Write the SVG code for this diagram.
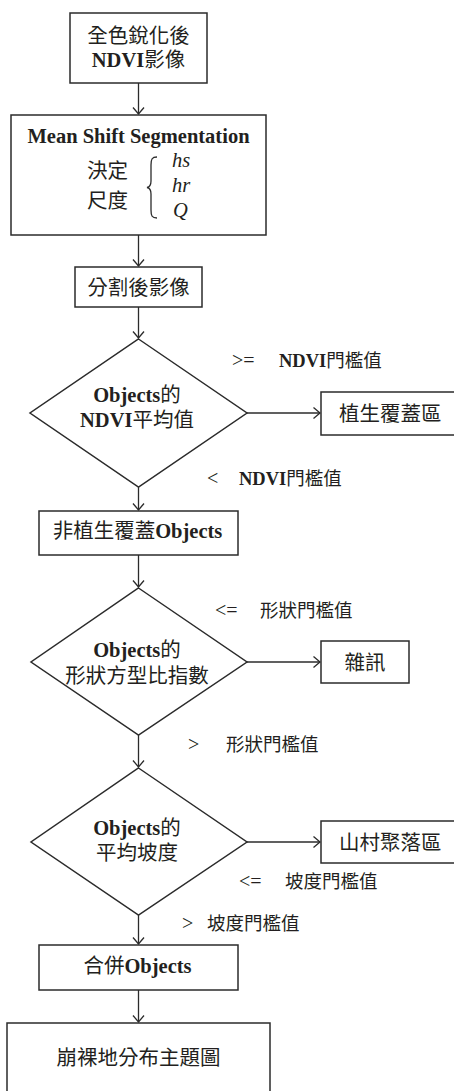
<svg xmlns="http://www.w3.org/2000/svg" width="454" height="1091" viewBox="0 0 454 1091">
  <style>
    .box { fill: #ffffff; stroke: #2b2b2b; stroke-width: 1.5; }
    .line { fill: none; stroke: #2b2b2b; stroke-width: 1.3; }
    .t { font-family: "Noto Sans CJK TC", "Noto Sans CJK SC", sans-serif; font-size: 20.5px; fill: #231f20; }
    .lbl { font-family: "Noto Sans CJK TC", "Noto Sans CJK SC", sans-serif; font-size: 18.5px; fill: #231f20; }
    .b { font-family: "Liberation Serif", "Times New Roman", serif; font-weight: bold; }
    .it { font-family: "Liberation Serif", "Times New Roman", serif; font-style: italic; font-size: 20.5px; fill: #231f20; }
    .op { font-family: "Liberation Serif", "Times New Roman", serif; font-size: 20px; fill: #231f20; }
  </style>
  <defs>
    <marker id="arrow" markerUnits="userSpaceOnUse" markerWidth="10" markerHeight="14" refX="8" refY="7" orient="auto">
      <path d="M1.5,1.5 L8,7 L1.5,12.5" fill="none" stroke="#2b2b2b" stroke-width="1.3"/>
    </marker>
  </defs>
  <rect width="454" height="1091" fill="#ffffff"/>

  <g id="connectors">
    <line class="line" x1="138.5" y1="83" x2="138.5" y2="114" marker-end="url(#arrow)"/>
    <line class="line" x1="138.5" y1="235" x2="138.5" y2="266" marker-end="url(#arrow)"/>
    <line class="line" x1="138.5" y1="307" x2="138.5" y2="338" marker-end="url(#arrow)"/>
    <line class="line" x1="138.5" y1="487" x2="138.5" y2="510" marker-end="url(#arrow)"/>
    <line class="line" x1="138.5" y1="555" x2="138.5" y2="587" stroke-width="2" marker-end="url(#arrow)"/>
    <line class="line" x1="138.5" y1="735" x2="138.5" y2="767" marker-end="url(#arrow)"/>
    <line class="line" x1="138.5" y1="915" x2="138.5" y2="944" marker-end="url(#arrow)"/>
    <line class="line" x1="138.5" y1="990" x2="138.5" y2="1022" marker-end="url(#arrow)"/>
    <line class="line" x1="247" y1="413" x2="320" y2="413" marker-end="url(#arrow)"/>
    <line class="line" x1="247" y1="662" x2="320" y2="662" marker-end="url(#arrow)"/>
    <line class="line" x1="247" y1="842" x2="320" y2="842" marker-end="url(#arrow)"/>
    <!-- branch labels -->
    <text class="op" x="232" y="367">&gt;=</text>
    <text class="lbl" x="279" y="367"><tspan class="b">NDVI</tspan>門檻值</text>
    <text class="op" x="207" y="485">&lt;</text>
    <text class="lbl" x="239" y="485"><tspan class="b">NDVI</tspan>門檻值</text>
    <text class="op" x="215" y="617">&lt;=</text>
    <text class="lbl" x="260" y="617">形狀門檻值</text>
    <text class="op" x="188" y="751">&gt;</text>
    <text class="lbl" x="226" y="751">形狀門檻值</text>
    <text class="op" x="239" y="888">&lt;=</text>
    <text class="lbl" x="285" y="888">坡度門檻值</text>
    <text class="op" x="182" y="930">&gt;</text>
    <text class="lbl" x="207" y="930">坡度門檻值</text>
  </g>

  <g id="ndvi-input">
    <rect class="box" x="70" y="13" width="137" height="70"/>
    <text class="t" x="138.5" y="43" text-anchor="middle">全色銳化後</text>
    <text class="t" x="138.5" y="67" text-anchor="middle"><tspan class="b">NDVI</tspan>影像</text>
  </g>

  <g id="mean-shift">
    <rect class="box" x="11" y="115" width="255" height="120"/>
    <text class="t b" x="138.5" y="143" text-anchor="middle">Mean Shift Segmentation</text>
    <text class="t" x="87" y="178">決定</text>
    <text class="t" x="87" y="208">尺度</text>
    <path class="line" d="M157,157 C152,157 151,159 151,165 L151,181 C151,185 150,187 147,187.5 C150,188 151,190 151,194 L151,210 C151,216 152,218 157,218"/>
    <text class="it" x="172" y="167">hs</text>
    <text class="it" x="172" y="192">hr</text>
    <text class="it" x="173" y="217">Q</text>
  </g>

  <g id="segmented">
    <rect class="box" x="75" y="267" width="127" height="40"/>
    <text class="t" x="138.5" y="295" text-anchor="middle">分割後影像</text>
  </g>

  <g id="ndvi-mean">
    <polygon class="box" points="138.5,339 247,413 138.5,487 30,413"/>
    <text class="t" x="137" y="402" text-anchor="middle"><tspan class="b">Objects</tspan>的</text>
    <text class="t" x="137" y="427" text-anchor="middle"><tspan class="b">NDVI</tspan>平均值</text>
  </g>

  <g id="vegetation">
    <rect class="box" x="321" y="392" width="140" height="43"/>
    <text class="t" x="339" y="421">植生覆蓋區</text>
  </g>

  <g id="non-vegetation">
    <rect class="box" x="39" y="511" width="199" height="44"/>
    <text class="t" x="137.5" y="538" text-anchor="middle">非植生覆蓋<tspan class="b">Objects</tspan></text>
  </g>

  <g id="shape-index">
    <polygon class="box" points="138.5,588 247,662 138.5,735 31,662"/>
    <text class="t" x="137" y="657" text-anchor="middle"><tspan class="b">Objects</tspan>的</text>
    <text class="t" x="137" y="683" text-anchor="middle">形狀方型比指數</text>
  </g>

  <g id="noise">
    <rect class="box" x="321" y="641" width="88" height="42"/>
    <text class="t" x="365" y="670" text-anchor="middle">雜訊</text>
  </g>

  <g id="mean-slope">
    <polygon class="box" points="138.5,768 247,842 138.5,915 31,842"/>
    <text class="t" x="137" y="835" text-anchor="middle"><tspan class="b">Objects</tspan>的</text>
    <text class="t" x="137" y="860" text-anchor="middle">平均坡度</text>
  </g>

  <g id="village">
    <rect class="box" x="321" y="821" width="140" height="42"/>
    <text class="t" x="339" y="850">山村聚落區</text>
  </g>

  <g id="merge">
    <rect class="box" x="39" y="945" width="199" height="45"/>
    <text class="t" x="137.5" y="973" text-anchor="middle">合併<tspan class="b">Objects</tspan></text>
  </g>

  <g id="landslide-map">
    <rect class="box" x="7" y="1023" width="263" height="100"/>
    <text class="t" x="138.5" y="1065" text-anchor="middle">崩裸地分布主題圖</text>
  </g>
</svg>
